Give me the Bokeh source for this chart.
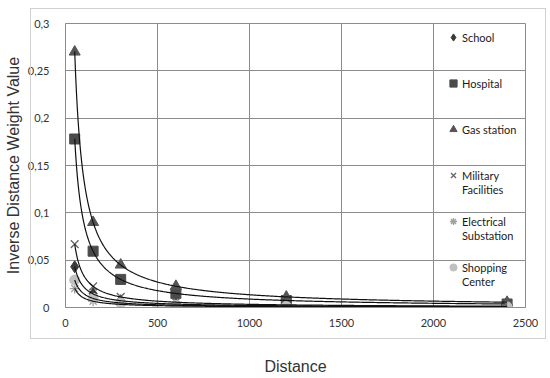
import numpy as np
from bokeh.plotting import figure
from bokeh.models import FixedTicker, Legend, LegendItem, InlineStyleSheet
from bokeh.embed import file_html
from bokeh.resources import INLINE

distance = [50, 150, 300, 600, 1200, 2400]
school = [0.043, 0.0145, 0.0072, 0.0036, 0.0018, 0.0009]
hospital = [0.178, 0.0595, 0.0297, 0.0149, 0.0074, 0.0037]
gas_station = [0.270, 0.090, 0.045, 0.0225, 0.0112, 0.0056]
military = [0.067, 0.0223, 0.0112, 0.0056, 0.0028, 0.0014]
electrical = [0.020, 0.0067, 0.0033, 0.0017, 0.0008, 0.0004]
shopping = [0.029, 0.0097, 0.0048, 0.0024, 0.0012, 0.0006]

x_ticks = [0, 500, 1000, 1500, 2000, 2500]
y_ticks = [0, 0.05, 0.1, 0.15, 0.2, 0.25, 0.3]
y_tick_labels = ["0", "0,05", "0,1", "0,15", "0,2", "0,25", "0,3"]

FRAME_L, FRAME_B = 65, 307  # canvas coords of frame bottom-left

p = figure(width=548, height=378, x_range=(0, 2500), y_range=(0, 0.3),
           output_backend="svg", toolbar_location=None,
           min_border_left=65, min_border_right=23, min_border_top=23, min_border_bottom=71)
p.background_fill_color = "white"
p.border_fill_color = "white"
p.outline_line_color = "#8c8c8c"

grid_c = "#8c8c8c"
p.xgrid.ticker = FixedTicker(ticks=x_ticks)
p.ygrid.ticker = FixedTicker(ticks=y_ticks)
p.xgrid.grid_line_color = grid_c
p.ygrid.grid_line_color = grid_c

p.xaxis.ticker = FixedTicker(ticks=x_ticks)
p.yaxis.ticker = FixedTicker(ticks=y_ticks)
p.yaxis.major_label_overrides = {t: l for t, l in zip(y_ticks, y_tick_labels)}
for ax in (p.xaxis, p.yaxis):
    ax.axis_line_color = grid_c
    ax.major_tick_line_color = None
    ax.minor_tick_line_color = None
    ax.major_label_text_font = "Lato"
    ax.major_label_text_font_size = "11px"
    ax.major_label_text_color = "#333333"
    ax.axis_label_text_font = "Liberation Sans"
    ax.axis_label_text_font_size = "16px"
    ax.axis_label_text_font_style = "normal"
    ax.axis_label_text_color = "#333333"
p.xaxis.major_label_standoff = 5
p.yaxis.major_label_standoff = 10
p.xaxis.axis_label = "Distance"
p.yaxis.axis_label = "Inverse Distance Weight Value"
p.xaxis.axis_label_standoff = 28
p.yaxis.axis_label_standoff = 3

# outer chart-area box (drawn with CSS over the canvas)
p.stylesheets = [InlineStyleSheet(css="""
:host { position: relative; }
:host::after { content: ''; position: absolute; left: 30px; top: 8px;
  width: 516px; height: 331px; border: 1px solid #d0d0d0;
  box-sizing: border-box; pointer-events: none; }
""")]

series = [
    ("School", school, "diamond", 12, "#3a3a3a", "#3a3a3a"),
    ("Hospital", hospital, "square", 10, "#4a4a4a", "#4a4a4a"),
    ("Gas station", gas_station, "triangle", 11, "#555555", "#555555"),
    ("Military\nFacilities", military, "x", 11, None, "#666666"),
    ("Electrical\nSubstation", electrical, "asterisk", 10, None, "#a0a0a0"),
    ("Shopping\nCenter", shopping, "circle", 10, "#c0c0c0", "#c0c0c0"),
]

renderers = []
for name, vals, marker, size, fill, line in series:
    r = p.scatter(distance, vals, marker=marker, size=size,
                  fill_color=fill, line_color=line, line_width=1.3 if fill is None else 1)
    renderers.append(r)

xs = np.linspace(distance[0], distance[-1], 500)
for name, vals, *_ in series:
    b, lna = np.polyfit(np.log(distance), np.log(vals), 1)
    p.line(xs, np.exp(lna) * xs ** b, line_color="#111111", line_width=1.2)

dummy = p.scatter([], [], marker="circle", size=1, fill_alpha=0, line_alpha=0)

legend_rows = [37, 83, 129, 175, 221, 267]
LEG_H = 20

def add_legend(renderer, text, cy):
    leg = Legend(items=[LegendItem(label=text, renderers=[renderer])],
                 location=(444 - FRAME_L, FRAME_B - (cy + LEG_H / 2)),
                 padding=0, margin=0, border_line_color=None,
                 background_fill_alpha=0, glyph_width=18, glyph_height=LEG_H,
                 label_height=LEG_H, label_standoff=-2,
                 label_text_font="Lato", label_text_font_size="11px",
                 label_text_color="#1a1a1a")
    p.add_layout(leg)

for (name, *_), r, cy in zip(series, renderers, legend_rows):
    lines = name.split("\n")
    add_legend(r, lines[0], cy)
    if len(lines) > 1:
        add_legend(dummy, lines[1], cy + 14)

open("out.html", "w").write(file_html(p, INLINE))
